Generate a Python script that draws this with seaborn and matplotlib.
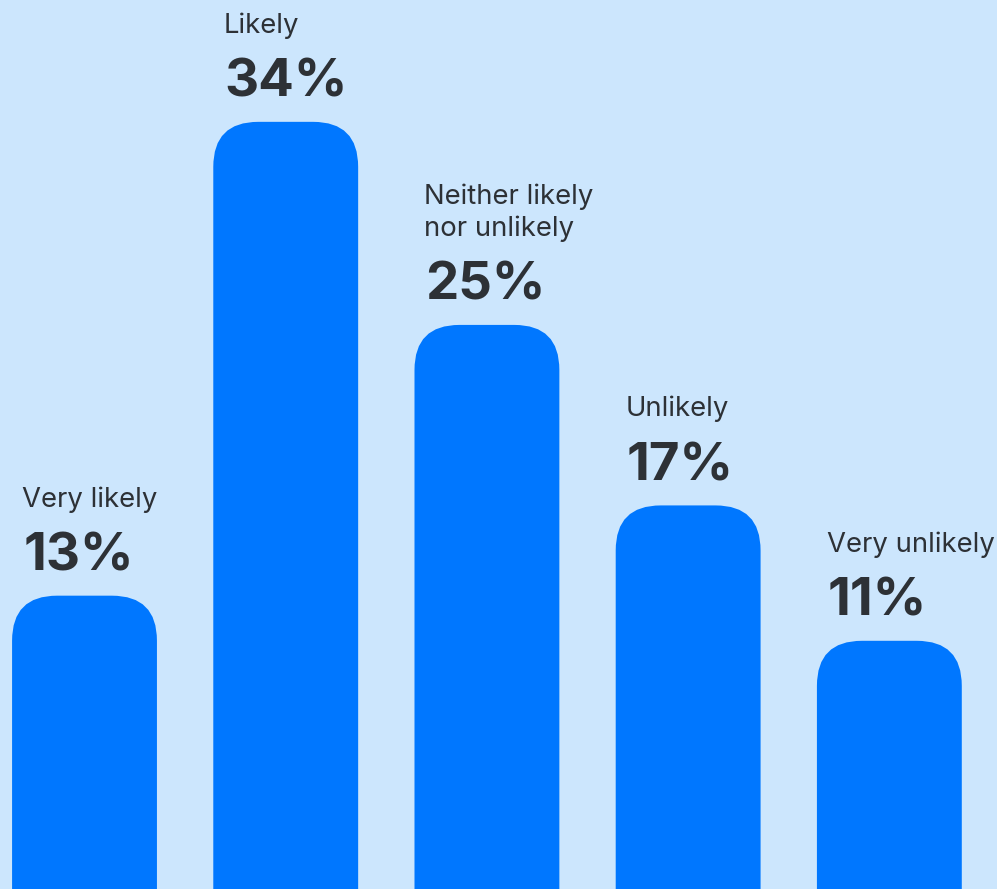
import matplotlib
matplotlib.use("Agg")
import matplotlib.pyplot as plt
from matplotlib.patches import FancyBboxPatch
import seaborn as sns
import pandas as pd

categories = ["Very likely", "Likely", "Neither likely\nnor unlikely", "Unlikely", "Very unlikely"]
shares = [13, 34, 25, 17, 11]
value_labels = ["13%", "34%", "25%", "17%", "11%"]

BG = "#cce6fd"
BAR = "#0077ff"
INK = "#2d3136"

sns.set_theme(style="white")
plt.rcParams["font.family"] = ["Inter", "DejaVu Sans"]

df = pd.DataFrame({"category": categories, "share": shares})

fig = plt.figure(figsize=(9.97, 8.89), dpi=100, facecolor=BG)
ax = fig.add_axes([0, 0, 1, 1])
ax.set_facecolor(BG)

sns.barplot(data=df, x="category", y="share", color=BAR, width=0.72,
            saturation=1, ax=ax)

ax.set_xlim(-0.42, 4.535)
ax.set_ylim(0, 39.4)
ax.axis("off")

# px per data unit in each direction, for circular corners
fig.canvas.draw()
x0, y0 = ax.transData.transform((0, 0))
x1, y1 = ax.transData.transform((1, 1))
px_x = x1 - x0
px_y = y1 - y0
radius_px = 45
aspect = px_x / px_y

bars = list(ax.patches)
for bar, label, vlabel in zip(bars, categories, value_labels):
    left = bar.get_x()
    w = bar.get_width()
    h = bar.get_height()
    bar.set_visible(False)
    extra = radius_px / px_y * 2
    rounded = FancyBboxPatch(
        (left, -extra), w, h + extra,
        boxstyle=f"round,pad=0,rounding_size={radius_px / px_x}",
        mutation_aspect=aspect,
        facecolor=BAR, edgecolor="none", clip_on=True, zorder=2,
    )
    ax.add_patch(rounded)

    ax.annotate(vlabel, xy=(left, h), xytext=(11, 25), textcoords="offset pixels",
                ha="left", va="baseline", fontsize=38, fontweight="bold",
                color=INK)
    ax.annotate(label, xy=(left, h), xytext=(10, 83), textcoords="offset pixels",
                ha="left", va="bottom", fontsize=19.8, color=INK,
                linespacing=1.24)

fig.savefig("out.png", dpi=100, facecolor=BG)
